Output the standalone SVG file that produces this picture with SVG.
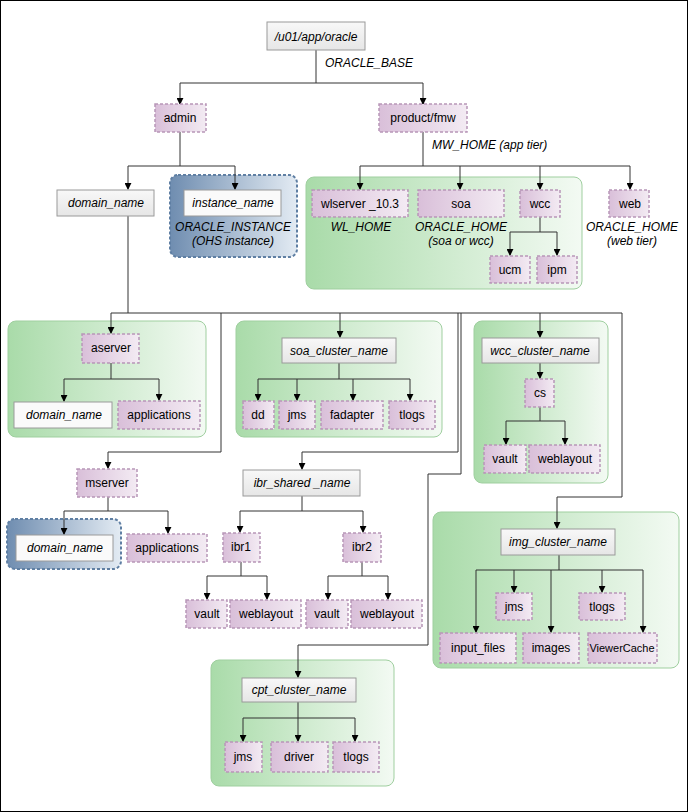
<svg xmlns="http://www.w3.org/2000/svg" width="688" height="812" viewBox="0 0 688 812">
<defs>
<linearGradient id="gp" x1="0" y1="0" x2="1" y2="0"><stop offset="0" stop-color="#d9bfd9"/><stop offset="1" stop-color="#f3ebf3"/></linearGradient>
<linearGradient id="gg" x1="0" y1="0" x2="0" y2="1"><stop offset="0" stop-color="#f8f8f8"/><stop offset="1" stop-color="#e6e6e6"/></linearGradient>
<linearGradient id="ggr" x1="0" y1="0" x2="1" y2="0"><stop offset="0" stop-color="#a9dba9"/><stop offset="1" stop-color="#f3faf3"/></linearGradient>
<linearGradient id="gb" x1="0" y1="0" x2="1" y2="0"><stop offset="0" stop-color="#6f8db0"/><stop offset="1" stop-color="#e3ebf3"/></linearGradient>
<marker id="ar" viewBox="0 0 8 8" refX="7" refY="4" markerWidth="7" markerHeight="7" orient="auto" markerUnits="userSpaceOnUse"><path d="M0,0L8,4L0,8z" fill="#000"/></marker>
</defs>
<style>
.p{fill:url(#gp);stroke:#b897b8;stroke-width:1.5;stroke-dasharray:3 2}
.g{fill:url(#gg);stroke:#9a9a9a;stroke-width:1}
.w{fill:#fafafa;stroke:#9a9a9a;stroke-width:1}
.gr{fill:url(#ggr);stroke:#9fcf9f;stroke-width:1}
.bl{fill:url(#gb);stroke:#5f7fa3;stroke-width:2;stroke-dasharray:3 2}
text{font-family:"Liberation Sans",Arial,sans-serif;font-size:12px;text-anchor:middle;fill:#000}
.i{font-style:italic}
#c path{fill:none;stroke:#333;stroke-width:1}
#c .a{marker-end:url(#ar)}
</style>
<rect x="0.5" y="0.5" width="687" height="811" fill="#fff" stroke="#000"/>
<g id="containers">
<rect class="bl" x="170" y="175" width="127" height="82" rx="8"/>
<rect class="gr" x="306" y="177" width="276" height="112" rx="8"/>
<rect class="gr" x="8" y="321" width="198" height="116" rx="8"/>
<rect class="gr" x="236" y="321" width="206" height="116" rx="8"/>
<rect class="gr" x="474" y="321" width="134" height="162" rx="8"/>
<rect class="bl" x="7" y="519" width="114" height="50" rx="8"/>
<rect class="gr" x="433" y="512" width="246" height="156" rx="8"/>
<rect class="gr" x="211" y="660" width="183" height="126" rx="8"/>
</g>
<g id="c">
<path d="M316,50V83M180,83H423"/>
<path class="a" d="M180,83V104"/><path class="a" d="M423,83V104"/>
<path d="M180,132V166M128,166H235"/>
<path class="a" d="M128,166V189"/><path class="a" d="M235,166V189"/>
<path d="M423,132V166M360,166H630"/>
<path class="a" d="M360,166V189"/><path class="a" d="M460,166V189"/><path class="a" d="M540,166V189"/><path class="a" d="M630,166V189"/>
<path d="M540,217V232M510,232H557"/>
<path class="a" d="M510,232V255"/><path class="a" d="M557,232V255"/>
<path d="M128,216V313M111,313H622"/>
<path class="a" d="M111,313V333"/>
<path class="a" d="M221,313V452H108V468"/>
<path class="a" d="M340,313V337"/>
<path class="a" d="M458,313V452H302V469"/>
<path class="a" d="M461,313V474H428V645H298V677"/>
<path class="a" d="M540,313V337"/>
<path class="a" d="M622,313V497H557V528"/>
<path d="M111,363V379M64,379H159"/>
<path class="a" d="M64,379V401"/><path class="a" d="M159,379V400"/>
<path d="M339,363V379M258,379H410"/>
<path class="a" d="M258,379V400"/><path class="a" d="M297,379V400"/><path class="a" d="M353,379V400"/><path class="a" d="M410,379V400"/>
<path class="a" d="M540,363V378"/>
<path d="M540,407V421M506,421H565"/>
<path class="a" d="M506,421V444"/><path class="a" d="M565,421V444"/>
<path d="M108,497V511M64,511H168"/>
<path class="a" d="M64,511V534"/><path class="a" d="M168,511V533"/>
<path d="M302,496V511M240,511H363"/>
<path class="a" d="M240,511V532"/><path class="a" d="M363,511V532"/>
<path d="M241,562V576M207,576H267"/>
<path class="a" d="M207,576V599"/><path class="a" d="M267,576V599"/>
<path d="M362,562V576M328,576H388"/>
<path class="a" d="M328,576V599"/><path class="a" d="M388,576V599"/>
<path d="M559,555V570M476,570H643"/>
<path class="a" d="M476,570V632"/><path class="a" d="M551,570V632"/><path class="a" d="M643,570V632"/>
<path class="a" d="M514,570V592"/><path class="a" d="M602,570V592"/>
<path d="M298,702V718M243,718H355"/>
<path class="a" d="M243,718V741"/><path class="a" d="M298,718V741"/><path class="a" d="M355,718V741"/>
</g>
<g id="n-base"><rect class="g" x="267" y="22" width="98" height="28"/><text class="i" x="316" y="41">/u01/app/oracle</text></g>
<text class="i" x="325" y="67" style="text-anchor:start">ORACLE_BASE</text>
<g id="n-admin"><rect class="p" x="155" y="104" width="51" height="28"/><text x="180" y="122">admin</text></g>
<g id="n-product"><rect class="p" x="379" y="104" width="88" height="28"/><text x="423" y="122">product/fmw</text></g>
<text class="i" x="432" y="149" style="text-anchor:start">MW_HOME (app tier)</text>
<g id="n-domain"><rect class="g" x="57" y="190" width="97" height="26"/><text class="i" x="106" y="207">domain_name</text></g>
<g id="n-instance"><rect class="w" x="184" y="190" width="97" height="26"/><text class="i" x="233" y="207">instance_name</text>
<text class="i" x="233" y="231">ORACLE_INSTANCE</text><text class="i" x="233" y="245">(OHS instance)</text></g>
<g id="n-wlserver"><rect class="p" x="312" y="190" width="96" height="27"/><text x="360" y="208">wlserver _10.3</text><text class="i" x="361" y="231">WL_HOME</text></g>
<g id="n-soa"><rect class="p" x="418" y="190" width="86" height="27"/><text x="461" y="208">soa</text><text class="i" x="461" y="231">ORACLE_HOME</text><text class="i" x="461" y="245">(soa or wcc)</text></g>
<g id="n-wcc"><rect class="p" x="520" y="190" width="40" height="27"/><text x="540" y="208">wcc</text></g>
<g id="n-web"><rect class="p" x="609" y="190" width="40" height="27"/><text x="630" y="208">web</text><text class="i" x="632" y="231">ORACLE_HOME</text><text class="i" x="632" y="245">(web tier)</text></g>
<g id="n-ucm"><rect class="p" x="490" y="256" width="40" height="27"/><text x="510" y="274">ucm</text></g>
<g id="n-ipm"><rect class="p" x="537" y="256" width="40" height="27"/><text x="557" y="274">ipm</text></g>
<g id="n-aserver"><rect class="p" x="82" y="334" width="57" height="29"/><text x="111" y="352">aserver</text></g>
<g id="n-adomain"><rect class="w" x="14" y="402" width="98" height="26"/><text class="i" x="64" y="419">domain_name</text></g>
<g id="n-aapps"><rect class="p" x="118" y="401" width="82" height="28"/><text x="159" y="419">applications</text></g>
<g id="n-soacl"><rect class="g" x="282" y="338" width="114" height="25"/><text class="i" x="339" y="355">soa_cluster_name</text></g>
<g id="n-dd"><rect class="p" x="243" y="401" width="31" height="28"/><text x="258" y="419">dd</text></g>
<g id="n-jms1"><rect class="p" x="279" y="401" width="36" height="28"/><text x="297" y="419">jms</text></g>
<g id="n-fad"><rect class="p" x="321" y="401" width="62" height="28"/><text x="352" y="419">fadapter</text></g>
<g id="n-tlogs1"><rect class="p" x="389" y="401" width="46" height="28"/><text x="412" y="419">tlogs</text></g>
<g id="n-wcccl"><rect class="g" x="482" y="338" width="117" height="25"/><text class="i" x="540" y="355">wcc_cluster_name</text></g>
<g id="n-cs"><rect class="p" x="525" y="379" width="29" height="28"/><text x="540" y="397">cs</text></g>
<g id="n-vault1"><rect class="p" x="484" y="445" width="42" height="28"/><text x="505" y="463">vault</text></g>
<g id="n-wl1"><rect class="p" x="529" y="445" width="71" height="28"/><text x="565" y="463">weblayout</text></g>
<g id="n-mserver"><rect class="p" x="77" y="469" width="60" height="28"/><text x="107" y="487">mserver</text></g>
<g id="n-mdomain"><rect class="w" x="16" y="535" width="97" height="26"/><text class="i" x="65" y="552">domain_name</text></g>
<g id="n-mapps"><rect class="p" x="127" y="534" width="80" height="28"/><text x="167" y="552">applications</text></g>
<g id="n-ibrs"><rect class="g" x="243" y="470" width="117" height="26"/><text class="i" x="302" y="487">ibr_shared _name</text></g>
<g id="n-ibr1"><rect class="p" x="223" y="533" width="37" height="29"/><text x="241" y="551">ibr1</text></g>
<g id="n-ibr2"><rect class="p" x="343" y="533" width="38" height="29"/><text x="362" y="551">ibr2</text></g>
<g id="n-vault2"><rect class="p" x="186" y="600" width="41" height="28"/><text x="207" y="618">vault</text></g>
<g id="n-wl2"><rect class="p" x="230" y="600" width="71" height="28"/><text x="266" y="618">weblayout</text></g>
<g id="n-vault3"><rect class="p" x="306" y="600" width="42" height="28"/><text x="327" y="618">vault</text></g>
<g id="n-wl3"><rect class="p" x="351" y="600" width="71" height="28"/><text x="387" y="618">weblayout</text></g>
<g id="n-imgcl"><rect class="g" x="501" y="529" width="114" height="26"/><text class="i" x="558" y="546">img_cluster_name</text></g>
<g id="n-jms2"><rect class="p" x="496" y="593" width="36" height="27"/><text x="514" y="611">jms</text></g>
<g id="n-tlogs2"><rect class="p" x="579" y="593" width="46" height="27"/><text x="602" y="611">tlogs</text></g>
<g id="n-input"><rect class="p" x="440" y="633" width="76" height="30"/><text x="478" y="652">input_files</text></g>
<g id="n-images"><rect class="p" x="523" y="633" width="56" height="30"/><text x="551" y="652">images</text></g>
<g id="n-viewer"><rect class="p" x="588" y="633" width="69" height="30"/><text x="622" y="652" style="font-size:11px">ViewerCache</text></g>
<g id="n-cptcl"><rect class="g" x="242" y="678" width="114" height="24"/><text class="i" x="299" y="694">cpt_cluster_name</text></g>
<g id="n-jms3"><rect class="p" x="225" y="742" width="37" height="30"/><text x="243" y="761">jms</text></g>
<g id="n-driver"><rect class="p" x="271" y="742" width="57" height="30"/><text x="299" y="761">driver</text></g>
<g id="n-tlogs3"><rect class="p" x="333" y="742" width="46" height="30"/><text x="356" y="761">tlogs</text></g>
</svg>
